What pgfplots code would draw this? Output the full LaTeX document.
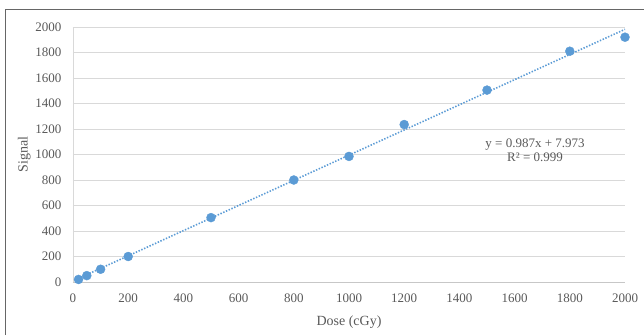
\documentclass[border=0pt]{standalone}
\usepackage{pgfplots}
\pgfplotsset{compat=1.18}
\usepackage{fontspec}
\setmainfont{Liberation Serif}
\definecolor{ptblue}{HTML}{5B9BD5}
\definecolor{txtgray}{HTML}{595959}
\definecolor{gridgray}{HTML}{D9D9D9}
\begin{document}
\begin{tikzpicture}
\begin{axis}[
  at={(0pt,0pt)}, anchor=south west,
  scale only axis, width=552pt, height=255pt,
  xmin=0, xmax=2000, ymin=0, ymax=2000,
  xtick={0,200,...,2000}, ytick={0,200,...,2000},
  major tick length=0pt,
  ymajorgrids, grid style={gridgray, line width=0.8pt},
  axis x line*=bottom, axis y line*=left,
  x axis line style={color=gridgray!80!gray, line width=0.8pt, -},
  y axis line style={color=gridgray, line width=0.8pt, -},
  /pgf/number format/assume math mode=true,
  /pgf/number format/1000 sep={},
  tick label style={font=\fontsize{13}{15}\selectfont, color=txtgray},
  xticklabel style={yshift=-8pt},
  yticklabel style={xshift=-8pt},
  xlabel={Dose (cGy)}, ylabel={Signal},
  label style={font=\fontsize{14}{16}\selectfont, color=txtgray},
  xlabel style={yshift=-7pt},
  ylabel style={yshift=-2pt},
  clip=false,
]
\addplot[ptblue, line width=1.6pt, dash pattern=on 1.4pt off 1.6pt] coordinates {(20,27.713) (2000,1981.973)};
\addplot[only marks, mark=*, mark size=4.5pt, mark options={fill=ptblue, draw=ptblue}] coordinates {
(20,20) (50,50) (100,100) (200,200) (500,505) (800,800) (1000,985) (1200,1235) (1500,1505) (1800,1810) (2000,1920)};
\node[align=center, font=\fontsize{13}{14}\selectfont, text=txtgray] at (axis cs:1674,1035) {y = 0.987x + 7.973\\R² = 0.999};
\end{axis}
\useasboundingbox (-73pt,-53pt) rectangle (571pt,282pt);
\draw[color=gray!80!black, line width=1.3pt] (-67.5pt,-53pt) -- (-67.5pt,272.5pt) -- (571pt,272.5pt);
\end{tikzpicture}
\end{document}
